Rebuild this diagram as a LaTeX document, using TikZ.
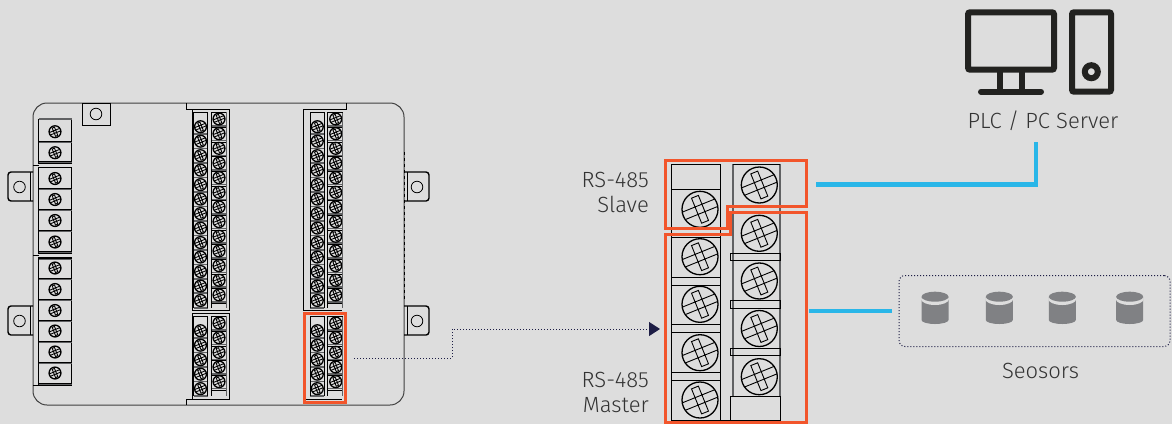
\documentclass[tikz,border=0pt]{standalone}
\usepackage{fontspec}
\setmainfont{Fira Sans Light}
\usetikzlibrary{positioning, arrows.meta, calc}

\definecolor{panelbg}{HTML}{DDDDDD}
\definecolor{inkdark}{HTML}{222220}
\definecolor{barline}{HTML}{606163}
\definecolor{redmark}{HTML}{F2552B}
\definecolor{linkblue}{HTML}{29B6E8}
\definecolor{navydot}{HTML}{1D1D45}
\definecolor{sensorgray}{HTML}{808184}
\definecolor{labelgray}{HTML}{333333}

\newcommand{\screwrim}{1.3pt}
\tikzset{
    screw/.pic={
        \draw[line width=\screwrim] (0,0) circle (18);
        \draw (8.49,11.12) -- (1.63,13.9) -- (-8.49,-11.12) -- (-1.63,-13.9) -- cycle
            (-14.82,10.31) -- (17.82,-2.89) (-17.82,2.89) -- (14.82,-10.31);
    },
    smallscrew/.style={scale=.33, line width=.85pt, draw=black},
    bigscrew/.style={line width=.9pt, draw=black}
}

% two columns of small screws with their bars
\newcommand{\smallcols}[5]{%
    \foreach \i in {0,...,#3} {
        \pgfmathsetmacro{\ya}{#4+\i*14.48}
        \pgfmathsetmacro{\yb}{#5+\i*14.66}
        \draw[bar] (#1-7,\ya+7.3) -- (#1+7,\ya+7.3);
        \draw[bar] (#2-8,\yb+7) -- (#2+7,\yb+7);
        \draw[cellline] (#2-8,\yb+8.4) -- (#2+7,\yb+8.4);
        \pic[smallscrew] at (#1,\ya) {screw};
        \pic[smallscrew] at (#2,\yb) {screw};
    }
    \draw[cellline] (#1-7,#5-7) -- (#1-7,#4+#3*14.48+7.5);
    \draw[cellline] (#1+7,#5-7) -- (#1+7,#4+#3*14.48+7.5);
    \draw[cellline] (#1-7,#5-7) -- (#1+7,#5-7);
    \draw[cellline] (#2-8,#5-7) -- (#2-8,#4+#3*14.48+7.5);
    \draw[bar, line width=.9pt] (#2+7,#5-7) -- (#2+7,#4+#3*14.48+7.5);
    \draw[cellline] (#2-8,#5-7) -- (#2+7,#5-7);
}

\begin{document}
\begin{tikzpicture}[
                x=1pt, y=-1pt,
                bar/.style={draw=barline, line width=1.6pt},
                cellline/.style={draw=black, line width=.8pt},
                bodyline/.style={draw=black!75, line width=1pt},
                tabline/.style={draw=black, line width=1.4pt},
                redbox/.style={draw=redmark, line width=3pt, line join=miter},
                link/.style={draw=linkblue, line width=4.6pt},
                dotarrow/.style={draw=navydot, line width=1pt, dotted,
                    -{Triangle[length=11pt, width=14pt, fill=navydot]}},
                icon/.style={draw=inkdark, line width=6pt, rounded corners=2pt},
                textstyle/.style={font=\fontsize{22}{25}\selectfont, text=labelgray, inner sep=0pt}
            ]
                \fill[panelbg] (0,0) rectangle (1172,424);
                \useasboundingbox (0,0) rectangle (1172,424);

                % Device body and mounting tabs
                \draw[bodyline, rounded corners=14pt] (33,103) rectangle (404,405);
                \draw[draw=black, line width=.8pt, dashed] (404,152) -- (404,300);
                \draw[cellline] (82,103) rectangle (110,125);
                \draw[cellline] (96,114) circle (5.8);
                \foreach \ytab in {172,306} {
                    \draw[tabline, rounded corners=3pt] (33,\ytab) -- (8,\ytab) -- (8,\ytab+29) -- (33,\ytab+29);
                    \draw[cellline] (30,\ytab) -- (30,\ytab+29);
                    \draw[cellline] (19.5,\ytab+15) circle (5.8);
                    \draw[tabline, rounded corners=3pt] (404,\ytab) -- (429,\ytab) -- (429,\ytab+29) -- (404,\ytab+29);
                    \draw[cellline] (407,\ytab) -- (407,\ytab+29);
                    \draw[cellline] (417,\ytab+15) circle (5.8);
                }

                % Left terminal strip
                \draw[cellline] (38.5,119) rectangle (71.5,163);
                \draw[cellline] (38.5,167) rectangle (71.5,253);
                \draw[cellline] (38.5,257) rectangle (71.5,385);
                \draw[bar] (38.5,119) -- (71.5,119);
                \foreach \ysep in {141,161,188,209,230,251,258,278,299,320,341,362,383} {
                    \draw[cellline] (38.5,\ysep) -- (71.5,\ysep);
                    \draw[bar, line width=1pt] (38.5,\ysep+1.5) -- (71.5,\ysep+1.5);
                }
                \draw[cellline] (33,165) -- (38.5,165) (33,255) -- (38.5,255) (33,385) -- (38.5,385);
                \foreach \yscrew in {131.7,152.7,178.5,199.5,220.5,242,268,289.5,310.5,331,352,373} {
                    \pic[smallscrew] at (55,\yscrew) {screw};
                }

                % Centre terminal strips
                \draw[cellline] (186,103) -- (186,109) -- (229.3,109) -- (229.3,310) -- (192,310) -- (192,109);
                \draw[cellline] (192,313.3) -- (229.3,313.3) -- (229.3,399.3) -- (192,399.3) -- cycle;
                \draw[cellline] (186,405) -- (186,399.3) -- (192,399.3);
                \smallcols{200.5}{219}{12}{126.7}{119}
                \smallcols{200.5}{219}{4}{330.7}{323}

                % Right terminal strips
                \draw[cellline] (346.7,103) -- (346.7,109) -- (303.3,109) -- (303.3,310);
                \draw[cellline] (303.3,310) -- (342,310);
                \smallcols{317.3}{335.7}{12}{126.7}{119}
                \smallcols{317.3}{335.7}{4}{330.7}{323}
                \draw[cellline] (306,399) -- (342,399);
                \draw[redbox] (304,313.3) rectangle (345.7,402.7);
                \coordinate (smallstrip) at (354,358);

                % Enlarged terminal, left column
                \draw[cellline] (671,164.3) rectangle (720.7,420.7);
                \foreach \ysep in {189,229.3,237.3,277.3,285,324.3,332.3,372.3,380.7} {
                    \draw[cellline] (671,\ysep) -- (720.7,\ysep);
                }
                \foreach \yscrew in {209.3,256.7,304.3,352.7,400} {
                    \pic[bigscrew] at (700,\yscrew) {screw};
                }

                % Enlarged terminal, right column
                \draw[bar] (732.7,164.3) -- (732.7,396.7);
                \draw[bar] (780,164.3) -- (780,396.7);
                \draw[cellline] (732.7,164.3) -- (780,164.3);
                \draw[cellline] (730.7,205.7) -- (780,205.7);
                \foreach \ybar in {253.3,300.7,348.3} {
                    \draw[cellline] (730.7,\ybar) rectangle (780,\ybar+7.5);
                }
                \draw[cellline] (730.7,396.7) rectangle (780,420.7);
                \draw[cellline] (720.7,420.7) -- (730.7,420.7);
                \foreach \yscrew in {185,233.3,281,328.5,376.7} {
                    \pic[bigscrew] at (759.3,\yscrew) {screw};
                }

                % Slave and master outlines
                \draw[redbox] (665,160.7) -- (806,160.7) -- (806,206.7) -- (727.3,206.7)
                    -- (727.3,228.3) -- (665,228.3) -- cycle;
                \draw[redbox] (665,234) -- (730.7,234) -- (730.7,212.7) -- (806.3,212.7)
                    -- (806.3,422.7) -- (665,422.7) -- cycle;
                \node[textstyle, align=right, anchor=east] (slave) at (649,192) {RS-485\\Slave};
                \node[textstyle, align=right, anchor=east] (master) at (649,392.5) {RS-485\\Master};

                % Computer icon
                \draw[icon] (968,12.3) rectangle (1054,69.7);
                \draw[draw=inkdark, line width=6pt] (1000,72) -- (1000,90) (1022.3,72) -- (1022.3,90);
                \draw[draw=inkdark, line width=6pt, line cap=round] (981,91.7) -- (1041,91.7);
                \draw[icon] (1072,12.3) rectangle (1111,91.7);
                \draw[draw=inkdark, line width=6pt] (1091.3,71.7) circle (6.5);
                \node[textstyle] (server) at (1043,121) {PLC / PC Server};

                % Sensor group
                \node[draw=navydot, line width=1pt, dotted, rounded corners=6pt, inner sep=0pt,
                    minimum width=271pt, minimum height=71pt] (sensors) at (1034.5,311) {};
                \foreach \xcan in {935,999.3,1062.3,1129.7} {
                    \fill[sensorgray] (\xcan-13.5,297) -- (\xcan-13.5,320)
                        arc[start angle=180, end angle=0, x radius=13.5, y radius=4]
                        -- (\xcan+13.5,297) -- cycle;
                    \fill[panelbg] (\xcan,299) ellipse[x radius=14, y radius=6];
                    \fill[sensorgray] (\xcan,296.7) ellipse[x radius=13.5, y radius=5];
                }
                \node[textstyle] (sensorlabel) at (1040.5,371) {Seosors};

                % Connectors
                \coordinate (slaveport) at (816,184.3);
                \coordinate (serverport) at (1036,142);
                \coordinate (masterport) at (809,311);
                \coordinate (bend) at (452,329);
                \coordinate (bigstrip) at (660,329);
                \draw[link] (slaveport) -| (serverport);
                \draw[link, shorten >=7pt] (masterport) -- (sensors.west);
                \draw[dotarrow] (smallstrip) -| (bend) -- (bigstrip);
            \end{tikzpicture}
\end{document}
